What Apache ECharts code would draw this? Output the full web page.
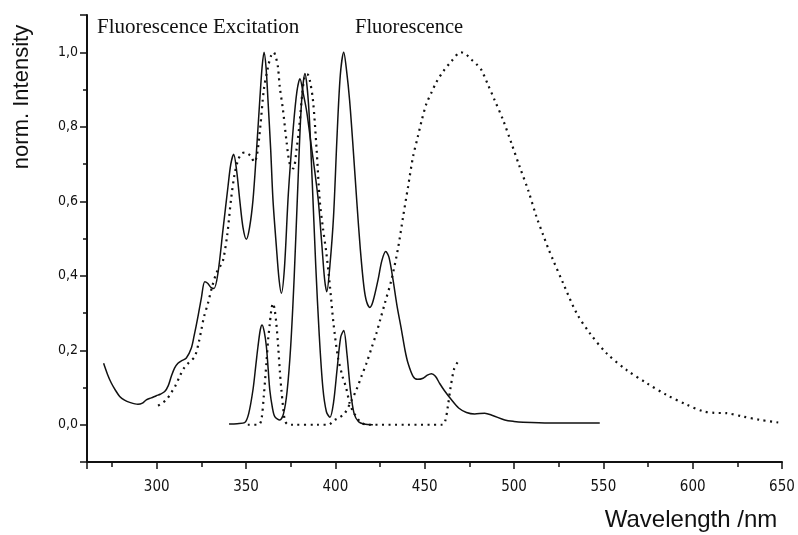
<!DOCTYPE html>
<html>
<head>
<meta charset="utf-8">
<script src="https://cdn.jsdelivr.net/npm/echarts@6/dist/echarts.min.js"></script>
<style>
  html, body { margin: 0; padding: 0; background: #fff; }
  #chart { width: 798px; height: 535px; }
</style>
</head>
<body>
<div id="chart"></div>
<script>
// solid curve, broad (270 - 548 nm)
const solidBroadNm = [270.3, 272.5, 274.6, 277, 279.3, 282, 284.9, 289.5, 292, 294.2, 297, 299.8, 302, 304.5, 306.5, 308.2, 310, 311.9, 314, 316.6, 319.4, 321, 323.1, 325, 326.9, 328.5, 330.5, 332.1, 334.3, 337.1, 339.9, 341.5, 343.1, 344.8, 346.5, 348.3, 350.2, 352, 353.9, 355.8, 357.7, 359, 360.1, 361.2, 362.3, 363.8, 365.1, 367, 368.5, 369.8, 371.5, 373.7, 376.5, 378.5, 380.2, 382, 384, 386.5, 388.5, 390.5, 392.5, 394, 395.2, 397, 399, 401, 402.8, 404.7, 406.3, 408, 410, 412, 414, 416, 417.5, 419.3, 421, 423.9, 426, 428.2, 430, 432.3, 434.5, 437, 439, 440.7, 443.5, 446, 449.1, 451.5, 453.8, 456, 458.5, 461, 465, 469, 473.4, 478, 483.6, 488, 494.8, 500, 505.1, 520, 548];
const solidBroadI = [0.165, 0.135, 0.112, 0.092, 0.076, 0.066, 0.060, 0.055, 0.058, 0.067, 0.072, 0.078, 0.082, 0.089, 0.105, 0.13, 0.152, 0.165, 0.172, 0.179, 0.206, 0.24, 0.29, 0.34, 0.384, 0.38, 0.368, 0.366, 0.407, 0.523, 0.639, 0.70, 0.726, 0.68, 0.603, 0.53, 0.498, 0.53, 0.603, 0.73, 0.871, 0.96, 1.0, 0.96, 0.871, 0.74, 0.603, 0.478, 0.39, 0.353, 0.42, 0.621, 0.80, 0.895, 0.929, 0.89, 0.84, 0.75, 0.68, 0.60, 0.48, 0.39, 0.357, 0.43, 0.56, 0.78, 0.94, 1.0, 0.95, 0.87, 0.74, 0.6, 0.47, 0.37, 0.33, 0.315, 0.33, 0.389, 0.44, 0.465, 0.45, 0.389, 0.32, 0.255, 0.2, 0.165, 0.13, 0.122, 0.125, 0.133, 0.137, 0.13, 0.11, 0.092, 0.067, 0.045, 0.033, 0.029, 0.031, 0.025, 0.013, 0.009, 0.007, 0.005, 0.005];

// solid curve, narrow bands (340 - 421 nm)
const solidNarrowNm = [340.5, 345, 349.3, 351.5, 353.9, 355.5, 356.7, 358, 359, 360.2, 361.4, 362.4, 363.3, 364.8, 366.1, 368.9, 371, 373, 375, 377, 379, 381, 383, 385, 387, 389, 391, 393, 395, 397, 399, 401, 403, 404.7, 406.5, 408.5, 410.5, 413, 416, 421];
const solidNarrowI = [0.002, 0.003, 0.006, 0.03, 0.094, 0.16, 0.21, 0.255, 0.268, 0.25, 0.21, 0.15, 0.094, 0.045, 0.022, 0.013, 0.03, 0.09, 0.21, 0.4, 0.64, 0.86, 0.943, 0.86, 0.66, 0.43, 0.24, 0.1, 0.035, 0.02, 0.06, 0.15, 0.235, 0.253, 0.19, 0.09, 0.03, 0.008, 0.002, 0.0];

// dotted curve, excitation (301 - 469 nm)
const dottedExcNm = [300.8, 303, 305.4, 308, 310.5, 312.9, 315, 318, 321.3, 323.5, 325, 326.5, 328.7, 331, 333.4, 335.5, 337.1, 339.5, 341.5, 343.5, 345.5, 347.5, 349.6, 351.5, 353, 354.5, 356, 358, 360, 362.3, 364, 365.5, 366.8, 367.9, 368.9, 370.7, 372.6, 374.5, 376.5, 378.3, 380, 381.5, 383, 384.5, 385.7, 387.5, 389.5, 391.3, 393, 395, 397, 399, 401.5, 404, 406, 408, 410, 412, 414.6, 418, 440, 460, 461.5, 463, 464.5, 466.5, 468.7];
const dottedExcI = [0.051, 0.058, 0.067, 0.085, 0.105, 0.13, 0.15, 0.167, 0.183, 0.22, 0.255, 0.29, 0.326, 0.37, 0.407, 0.425, 0.44, 0.51, 0.6, 0.67, 0.71, 0.728, 0.731, 0.726, 0.72, 0.705, 0.72, 0.8, 0.9, 0.96, 0.99, 1.0, 0.985, 0.96, 0.907, 0.845, 0.764, 0.70, 0.688, 0.74, 0.81, 0.89, 0.938, 0.94, 0.925, 0.87, 0.74, 0.60, 0.53, 0.46, 0.37, 0.27, 0.18, 0.13, 0.1, 0.058, 0.035, 0.02, 0.005, 0.0, 0.0, 0.0, 0.01, 0.05, 0.1, 0.15, 0.17];

// dotted curve, fluorescence (351 - 648 nm)
const dottedFlNm = [351, 357, 358.6, 360, 361.4, 362.4, 363.3, 364.2, 365.1, 366, 367, 368, 369, 369.8, 370.8, 371.7, 373, 376, 390, 396, 399.7, 402.5, 405.3, 408.5, 411.8, 414.6, 417.4, 420.2, 423, 425.3, 427.7, 431.4, 435.1, 437.9, 440.7, 443.5, 446, 448.5, 451, 453.8, 456.6, 460.3, 465, 470.2, 473, 476.2, 479, 481.8, 485.5, 489.2, 493.9, 498.6, 503.2, 507.9, 512.6, 516.3, 519.1, 521.9, 527.5, 535, 542.4, 551.8, 563, 574.2, 585.4, 596.6, 605.9, 612, 619, 628.2, 637.6, 647.9];
const dottedFlI = [0.0, 0.0, 0.013, 0.08, 0.165, 0.23, 0.27, 0.31, 0.326, 0.31, 0.27, 0.21, 0.14, 0.094, 0.045, 0.013, 0.002, 0.0, 0.0, 0.0, 0.013, 0.02, 0.031, 0.06, 0.094, 0.13, 0.165, 0.205, 0.246, 0.285, 0.326, 0.389, 0.474, 0.558, 0.639, 0.72, 0.77, 0.82, 0.862, 0.892, 0.92, 0.948, 0.976, 1.0, 0.995, 0.98, 0.968, 0.952, 0.912, 0.871, 0.818, 0.755, 0.692, 0.63, 0.558, 0.51, 0.474, 0.442, 0.38, 0.3, 0.246, 0.192, 0.147, 0.112, 0.08, 0.054, 0.036, 0.032, 0.031, 0.022, 0.013, 0.006];

const xTicks = [300, 350, 400, 450, 500, 550, 600, 650];
const yTicks = [0.0, 0.2, 0.4, 0.6, 0.8, 1.0];

function pairs(xs, ys) {
  return xs.map((x, i) => [x, ys[i]]);
}

const labelFont = '"Liberation Sans Narrow", "DejaVu Sans Condensed", "Liberation Sans", Arial, sans-serif';
const ink = '#111';

let chart = echarts.init(document.getElementById('chart'));
let option = {
  animation: false,
  grid: { left: 87, right: 16, top: 15, bottom: 73 },
  xAxis: {
    type: 'value',
    min: 261,
    max: 650,
    minInterval: 50,
    maxInterval: 50,
    splitLine: { show: false },
    axisLine: { onZero: false, lineStyle: { color: ink, width: 2 } },
    axisTick: { length: 7, lineStyle: { color: ink, width: 1.5 } },
    minorTick: { show: true, splitNumber: 2, length: 5, lineStyle: { color: ink, width: 1.5 } },
    axisLabel: {
      margin: 18,
      color: ink,
      fontSize: 15,
      fontFamily: labelFont,
      // only the hundreds/fifties get a label
      formatter: function (v) {
        return xTicks.indexOf(Math.round(v * 10) / 10) >= 0 ? String(v) : '';
      }
    }
  },
  yAxis: {
    type: 'value',
    min: -0.1,
    max: 1.1,
    minInterval: 0.2,
    maxInterval: 0.2,
    splitLine: { show: false },
    axisLine: { onZero: false, lineStyle: { color: ink, width: 2 } },
    axisTick: { length: 7, lineStyle: { color: ink, width: 1.5 } },
    minorTick: { show: true, splitNumber: 2, length: 4, lineStyle: { color: ink, width: 1.5 } },
    axisLabel: {
      margin: 9,
      color: ink,
      fontSize: 14,
      fontFamily: labelFont,
      // comma as decimal separator, skip the edge ticks
      formatter: function (v) {
        let r = Math.round(v * 10) / 10;
        if (yTicks.indexOf(r) < 0) return '';
        return r.toFixed(1).replace('.', ',');
      }
    }
  },
  graphic: [
    {
      type: 'text', left: 97, top: 17,
      style: { text: 'Fluorescence Excitation', font: '21px "Liberation Serif", "Times New Roman", serif', fill: ink }
    },
    {
      type: 'text', left: 355, top: 17,
      style: { text: 'Fluorescence', font: '20.5px "Liberation Serif", "Times New Roman", serif', fill: ink }
    },
    {
      type: 'text', x: 22, y: 97, rotation: Math.PI / 2,
      style: { text: 'norm. Intensity', font: '22px "Liberation Sans", Arial, sans-serif', fill: ink, align: 'center', verticalAlign: 'middle' }
    },
    {
      type: 'text', x: 691, y: 520,
      style: { text: 'Wavelength /nm', font: '24px "Liberation Sans Narrow", "Liberation Sans", Arial, sans-serif', fill: ink, align: 'center', verticalAlign: 'middle' }
    }
  ],
  series: [
    {
      name: 'solid broad',
      type: 'line',
      data: pairs(solidBroadNm, solidBroadI),
      showSymbol: false,
      smooth: 0.3,
      lineStyle: { color: ink, width: 1.5 }
    },
    {
      name: 'solid narrow',
      type: 'line',
      data: pairs(solidNarrowNm, solidNarrowI),
      showSymbol: false,
      smooth: 0.3,
      lineStyle: { color: ink, width: 1.5 }
    },
    {
      name: 'dotted excitation',
      type: 'line',
      data: pairs(dottedExcNm, dottedExcI),
      showSymbol: false,
      smooth: 0.3,
      lineStyle: { color: ink, width: 2.2, type: [2, 4.5] }
    },
    {
      name: 'dotted fluorescence',
      type: 'line',
      data: pairs(dottedFlNm, dottedFlI),
      showSymbol: false,
      smooth: 0.3,
      lineStyle: { color: ink, width: 2.2, type: [2, 4.5] }
    }
  ]
};
chart.setOption(option);
</script>
</body>
</html>
